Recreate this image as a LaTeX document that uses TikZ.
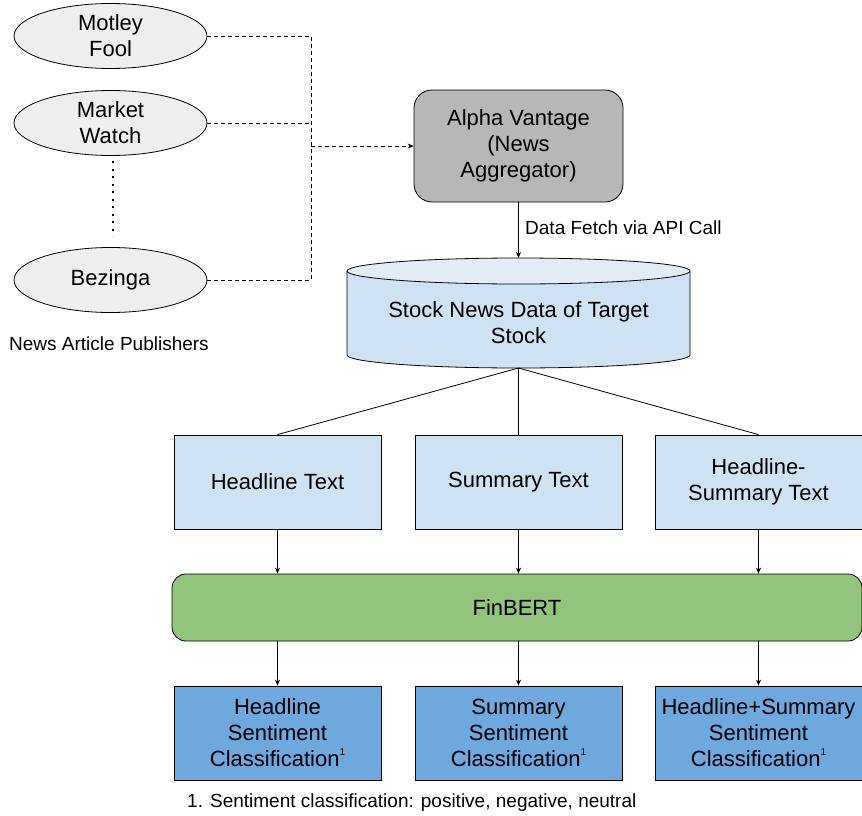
\documentclass[tikz,border=0pt]{standalone}
\usepackage{fontspec}
\setmainfont{Liberation Sans}
\usetikzlibrary{shapes.geometric,arrows.meta}
\definecolor{ellfill}{HTML}{EEEEEE}
\definecolor{avfill}{HTML}{B7B7B7}
\definecolor{ltblue}{HTML}{CFE2F3}
\definecolor{dbtopc}{HTML}{E1ECF7}
\definecolor{fingreen}{HTML}{93C47D}
\definecolor{midblue}{HTML}{6FA8DC}
\newcommand{\fnmark}{\raisebox{0.5em}{\fontsize{10}{10}\selectfont 1}}
\tikzset{
  bigtxt/.style={font=\fontsize{22}{26}\selectfont},
  smalltxt/.style={font=\fontsize{19}{22}\selectfont},
  pub/.style={ellipse, draw, line width=0.8pt, fill=ellfill, minimum width=193pt, minimum height=65pt, inner sep=0pt, align=center, bigtxt},
  avbox/.style={rectangle, rounded corners=18pt, draw, line width=0.8pt, fill=avfill, minimum width=209pt, minimum height=112pt, align=center, bigtxt},
  txtbox/.style={rectangle, draw, line width=0.8pt, fill=ltblue, minimum width=207pt, minimum height=94pt, align=center, bigtxt},
  resbox/.style={rectangle, draw, line width=0.8pt, fill=midblue, minimum width=207pt, minimum height=94pt, inner sep=0pt, align=center, bigtxt},
  finbox/.style={rectangle, rounded corners=14pt, draw, line width=0.8pt, fill=fingreen, minimum width=690pt, minimum height=67pt, align=center, bigtxt},
  dsh/.style={line width=0.9pt, dash pattern=on 4pt off 3pt},
  arr/.style={-{Stealth[length=6pt,width=5pt]}},
  conn/.style={line width=0.8pt}
}
\begin{document}
\begin{tikzpicture}[x=1pt,y=-1pt]
\useasboundingbox (0,0) rectangle (862,816);
% publishers
\node[pub] (mf) at (110.5,36) {Motley\\Fool};
\node[pub] (mw) at (110.5,123) {Market\\Watch};
\node[pub] (bz) at (110.5,280) {Bezinga};
\node[smalltxt, anchor=west, inner sep=0pt] (pubs) at (9,344) {News Article Publishers};
\coordinate (d1) at (113,161);
\coordinate (d2) at (113,236);
\draw[line width=2.3pt, dash pattern=on 2.3pt off 5.2pt] (d1) -- (d2);
% aggregator
\node[avbox] (av) at (518.5,146) {Alpha Vantage\\(News\\Aggregator)};
\coordinate (jt) at (311,36);
\coordinate (jb) at (311,280);
\coordinate (jm) at (311,146);
\draw[dsh] (mf.east) -- (jt) -- (jb) -- (bz.east);
\draw[dsh] (mw.east) -- (mw.east -| jt);
\draw[dsh, arr] (jm) -- (av.west);
% database cylinder
\fill[ltblue] (347,271) -- (347,355) arc[start angle=180, end angle=360, x radius=171.5pt, y radius=13pt] -- (690,271) -- cycle;
\draw[line width=0.8pt] (347,271) -- (347,355) arc[start angle=180, end angle=360, x radius=171.5pt, y radius=13pt] -- (690,271);
\filldraw[fill=dbtopc, line width=0.8pt] (518.5,271) ellipse[x radius=171.5pt, y radius=13pt];
\node[bigtxt, align=center] (db) at (518.5,323) {Stock News Data of Target\\Stock};
\coordinate (dbtop) at (518.5,258);
\coordinate (dbbot) at (518.5,368);
\draw[conn, arr] (av.south) -- (dbtop);
\node[smalltxt, anchor=west, inner sep=0pt] (fetch) at (525,228) {Data Fetch via API Call};
% text boxes
\node[txtbox] (ht) at (277.5,482) {Headline Text};
\node[txtbox] (st) at (518.5,482) {Summary Text};
\node[txtbox] (hst) at (758.5,482) {Headline-\\Summary Text};
\draw[conn] (dbbot) -- (ht.north);
\draw[conn] (dbbot) -- (st.north);
\draw[conn] (dbbot) -- (hst.north);
% finbert
\node[finbox] (fb) at (517,607.5) {FinBERT};
\draw[conn, arr] (ht.south) -- (ht.south |- fb.north);
\draw[conn, arr] (st.south) -- (st.south |- fb.north);
\draw[conn, arr] (hst.south) -- (hst.south |- fb.north);
% results
\node[resbox] (hr) at (277.5,733) {Headline\\Sentiment\\Classification\fnmark};
\node[resbox] (sr) at (518.5,733) {Summary\\Sentiment\\Classification\fnmark};
\node[resbox] (hsr) at (758.5,733) {Headline+Summary\\Sentiment\\Classification\fnmark};
\draw[conn, arr] (fb.south -| hr) -- (hr.north);
\draw[conn, arr] (fb.south -| sr) -- (sr.north);
\draw[conn, arr] (fb.south -| hsr) -- (hsr.north);
\node[smalltxt, anchor=west, inner sep=0pt] (foot) at (187,803) {1. Sentiment classification: positive, negative, neutral};
\end{tikzpicture}
\end{document}
